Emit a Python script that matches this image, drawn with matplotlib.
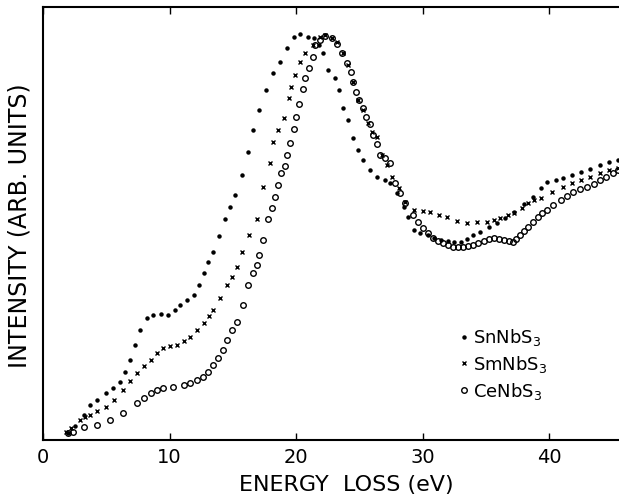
import numpy as np
import matplotlib
matplotlib.use("Agg")
import matplotlib.pyplot as plt

# energy loss (eV) / intensity (arb. units)
sn_e = [2.0, 2.5, 3.2, 3.7, 4.3, 5.0, 5.5, 6.1, 6.5, 6.9, 7.3, 7.7, 8.2, 8.7, 9.3, 9.9,
        10.4, 10.8, 11.4, 11.9, 12.3, 12.7, 13.0, 13.4, 13.9, 14.4, 14.8, 15.2, 15.7,
        16.2, 16.6, 17.1, 17.6, 18.2, 18.7, 19.3, 19.8, 20.3, 20.9, 21.4, 21.8, 22.1,
        22.5, 23.1, 23.4, 23.7, 24.1, 24.5, 24.9, 25.3, 25.8, 26.4, 27.0, 27.4, 28.0,
        28.5, 28.8, 29.3, 29.8, 30.4, 30.9, 31.4, 32.0, 32.5, 33.0, 33.5, 34.0, 34.5,
        35.2, 35.9, 36.5, 37.2, 38.0, 38.7, 39.3, 39.8, 40.5, 41.1, 41.8, 42.5, 43.2,
        44.0, 44.7, 45.4]
sn_i = [7, 14, 25, 35, 40, 47, 52, 58, 68, 80, 95, 110, 122, 125, 126, 125,
        130, 135, 140, 145, 155, 167, 178, 188, 204, 221, 233, 245, 265,
        288, 310, 330, 350, 367, 378, 392, 403, 406, 403, 402, 395, 387,
        370, 362, 350, 332, 320, 302, 290, 280, 270, 263, 260, 257, 247,
        233, 223, 210, 207, 205, 202, 200, 199, 198, 198, 201, 205, 208,
        213, 217, 222, 228, 236, 243, 252, 258, 260, 262, 265, 268, 271,
        275, 278, 280]

sm_e = [1.8, 2.2, 2.9, 3.3, 3.7, 4.3, 5.0, 5.6, 6.3, 6.9, 7.4, 8.0, 8.5, 9.0, 9.5, 10.0,
        10.6, 11.1, 11.6, 12.2, 12.7, 13.1, 13.4, 14.0, 14.5, 14.9, 15.3, 15.7, 16.3,
        16.9, 17.4, 17.9, 18.2, 18.6, 19.0, 19.4, 19.6, 19.9, 20.3, 20.7, 21.3, 21.9,
        22.3, 22.8, 23.2, 23.7, 24.1, 24.5, 24.9, 25.3, 25.7, 26.0, 26.4, 26.8, 27.2,
        27.6, 28.1, 28.6, 29.3, 30.0, 30.6, 31.3, 31.9, 32.7, 33.5, 34.3, 35.1, 35.6,
        36.1, 36.7, 37.2, 37.8, 38.3, 38.8, 39.3, 40.2, 41.1, 41.8, 42.5, 43.2, 44.0,
        44.7, 45.4]
sm_i = [8, 12, 20, 23, 25, 29, 33, 40, 50, 59, 67, 74, 80, 87, 92, 94,
        95, 99, 103, 110, 117, 124, 130, 142, 155, 163, 173, 188, 205,
        221, 253, 277, 298, 310, 322, 342, 353, 365, 378, 387, 395, 403,
        405, 402, 398, 387, 375, 358, 340, 330, 317, 308, 303, 285, 275,
        263, 252, 238, 230, 229, 228, 225, 223, 219, 217, 218, 218, 220,
        222, 225, 227, 232, 237, 240, 242, 248, 253, 257, 260, 263, 267,
        270, 272]

ce_e = [2.0, 2.4, 3.2, 4.3, 5.3, 6.3, 7.4, 8.0, 8.5, 9.0, 9.5, 10.3, 11.1, 11.6, 12.2,
        12.6, 13.0, 13.4, 13.8, 14.2, 14.5, 14.9, 15.3, 15.8, 16.2, 16.6, 16.9, 17.1,
        17.4, 17.8, 18.1, 18.3, 18.6, 18.8, 19.1, 19.3, 19.5, 19.8, 20.0, 20.2, 20.5,
        20.7, 21.0, 21.3, 21.5, 21.9, 22.3, 22.8, 23.2, 23.6, 24.0, 24.3, 24.5, 24.7,
        25.0, 25.3, 25.5, 25.8, 26.1, 26.4, 26.6, 27.0, 27.4, 27.8, 28.2, 28.6, 29.2,
        29.6, 30.0, 30.4, 30.8, 31.2, 31.6, 32.0, 32.4, 32.8, 33.2, 33.6, 34.0, 34.4,
        34.8, 35.2, 35.6, 36.0, 36.4, 36.8, 37.1, 37.4, 37.7, 38.0, 38.3, 38.7, 39.1,
        39.4, 39.8, 40.3, 40.9, 41.4, 41.9, 42.4, 43.0, 43.5, 44.0, 44.5, 45.0, 45.4]
ce_i = [7, 8, 13, 15, 20, 27, 37, 42, 47, 50, 52, 53, 55, 57, 60,
        63, 68, 75, 82, 90, 100, 110, 118, 135, 155, 167, 175, 185,
        200, 221, 232, 243, 255, 267, 274, 285, 297, 311, 323, 336, 351,
        362, 372, 383, 395, 400, 404, 402, 396, 387, 377, 368, 358, 348,
        340, 332, 323, 316, 305, 296, 285, 282, 277, 257, 247, 237, 225,
        218, 212, 207, 202, 199, 197, 195, 193, 193, 193, 194, 195, 197,
        199, 201, 202, 201, 200, 199, 198, 201, 205, 209, 213, 218, 223,
        227, 230, 235, 240, 244, 248, 251, 253, 256, 260, 263, 267, 270]

xticks = [0, 10, 20, 30, 40]

fig = plt.figure(figsize=(6.19, 4.97), dpi=100)
ax = fig.add_axes([43/619, 57/497, 576/619, 433/497])

ax.plot(sn_e, sn_i, ls='none', marker='o', ms=2.2, color='black', label='SnNbS$_3$')
ax.plot(sm_e, sm_i, ls='none', marker='x', ms=3.2, mew=1.0, color='black', label='SmNbS$_3$')
ax.plot(ce_e, ce_i, ls='none', marker='o', ms=4.0, mfc='none', mec='black', mew=1.0,
        label='CeNbS$_3$')

ax.set_xlim(0, 45.5)
ax.set_ylim(0, 433)
ax.set_xticks(xticks)
ax.set_yticks([])
ax.tick_params(axis='x', direction='in', top=True, length=5, width=1.0,
               labelsize=14, pad=6)
for s in ['left', 'bottom', 'top']:
    ax.spines[s].set_linewidth(1.5)
ax.spines['right'].set_visible(False)

fig.text(346/619, 1 - 485/497, 'ENERGY  LOSS (eV)', ha='center', va='center', fontsize=16)
fig.text(20/619, 1 - 226/497, 'INTENSITY (ARB. UNITS)', ha='center', va='center',
         rotation=90, fontsize=17)

ax.legend(loc='upper left', bbox_to_anchor=((446-43)/576, (440-318)/433), frameon=False,
          fontsize=13, handletextpad=0.0, labelspacing=0.32, markerscale=1.0,
          handlelength=1.0, borderpad=0)

fig.savefig('out.png', dpi=100)
